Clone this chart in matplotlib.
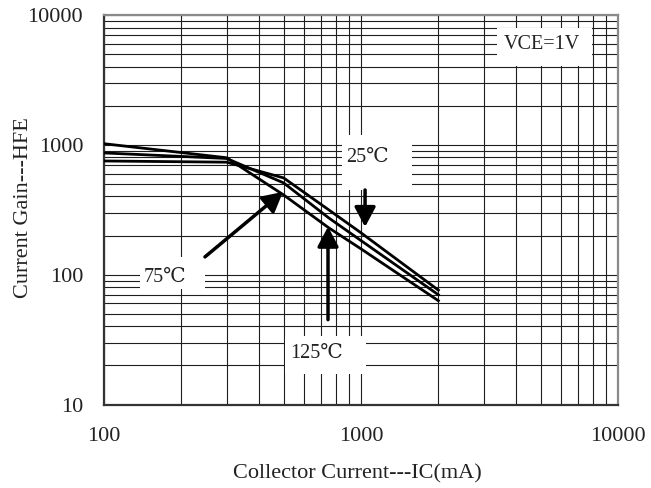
import matplotlib
matplotlib.use('Agg')
import matplotlib.pyplot as plt
from matplotlib.patches import Rectangle
from matplotlib.ticker import NullFormatter

plt.rcParams['font.family'] = ['Liberation Serif', 'DejaVu Serif', 'Noto Sans CJK SC']

# collector current (mA) and DC current gain
ic_ma = [100, 300, 500, 750, 1000, 2000]
hfe_25c = [751, 735, 556, 315, 210, 76]
hfe_75c = [866, 785, 509, 273, 183, 70]
hfe_125c = [1020, 795, 411, 229, 158, 63]

x_ticks = [100, 1000, 10000]
x_tick_labels = ['100', '1000', '10000']
y_ticks = [10, 100, 1000, 10000]
y_tick_labels = ['10', '100', '1000', '10000']

# labels: text, text position, white box (x0, y0, w, h) in axes fraction
labels = [
    ('VCE=1V', (0.852, 0.923), (0.765, 0.869, 0.184, 0.098)),
    ('25℃', (0.512, 0.635), (0.463, 0.551, 0.136, 0.141)),
    ('75℃', (0.119, 0.327), (0.070, 0.297, 0.127, 0.082)),
    ('125℃', (0.414, 0.132), (0.352, 0.078, 0.158, 0.098)),
]
# arrows: (tail, tip) in data units
arrows = [
    ((247, 137), (497, 434)),
    ((1037, 449), (1037, 233)),
    ((744, 45), (744, 234)),
]

fig = plt.figure(figsize=(6.51, 4.88), dpi=100)
ax = fig.add_axes([0.1598, 0.1711, 0.7895, 0.7982])
ax.set_xscale('log')
ax.set_yscale('log')
ax.set_xlim(100, 10000)
ax.set_ylim(10, 10000)

ax.grid(True, which='both', color='#1e1e1e', lw=0.8)
ax.set_axisbelow(True)

for x0, y0, w, h in [lab[2] for lab in labels]:
    ax.add_patch(Rectangle((x0, y0), w, h, transform=ax.transAxes,
                           facecolor='white', edgecolor='none', zorder=1.5))

for hfe in (hfe_25c, hfe_75c, hfe_125c):
    ax.plot(ic_ma, hfe, color='black', lw=2.0, zorder=3)

for tail, tip in arrows:
    ax.annotate('', xy=tip, xytext=tail,
                arrowprops=dict(arrowstyle='-|>,head_length=0.6,head_width=0.32',
                                lw=2.5, color='black', mutation_scale=20,
                                shrinkA=0, shrinkB=0), zorder=4)

for text, pos, _ in labels:
    ax.text(pos[0], pos[1], text, transform=ax.transAxes, ha='center',
            va='center', fontsize=14.5, color='#222222', zorder=5)

ax.set_xticks(x_ticks)
ax.set_xticklabels(x_tick_labels)
ax.set_yticks(y_ticks)
ax.set_yticklabels(y_tick_labels)
ax.xaxis.set_minor_formatter(NullFormatter())
ax.yaxis.set_minor_formatter(NullFormatter())
ax.tick_params(which='both', length=0)
ax.tick_params(axis='x', pad=16, labelsize=16, labelcolor='#222222')
ax.tick_params(axis='y', pad=15, labelsize=16, labelcolor='#222222')

for side in ('left', 'bottom'):
    ax.spines[side].set_color('#333333')
    ax.spines[side].set_linewidth(1.6)
for side in ('top', 'right'):
    ax.spines[side].set_color('#8a8a8a')
    ax.spines[side].set_linewidth(1.6)

ax.set_xlabel('Collector Current---IC(mA)', fontsize=16, color='#222222')
ax.set_ylabel('Current Gain---HFE', fontsize=16, color='#222222')
ax.xaxis.set_label_coords(0.493, -0.153)
ax.yaxis.set_label_coords(-0.138, 0.5045)

fig.savefig('out.png', dpi=100)
